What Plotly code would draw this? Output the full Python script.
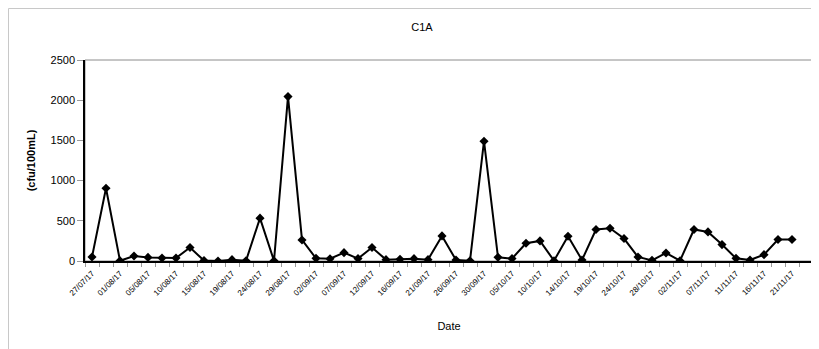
import plotly.graph_objects as go

# sample dates (every second sample is labelled on the axis)
date_labels = ['27/07/17', '01/08/17', '05/08/17', '10/08/17', '15/08/17', '19/08/17',
               '24/08/17', '29/08/17', '02/09/17', '07/09/17', '12/09/17', '16/09/17',
               '21/09/17', '26/09/17', '30/09/17', '05/10/17', '10/10/17', '14/10/17',
               '19/10/17', '24/10/17', '28/10/17', '02/11/17', '07/11/17', '11/11/17',
               '16/11/17', '21/11/17']

# C1A counts (cfu/100mL)
counts = [50, 905, 3, 62, 45, 37, 37, 167, 5, 0,
          17, 3, 533, 3, 2045, 262, 33, 28, 104, 30,
          167, 17, 21, 29, 17, 312, 12, 4, 1490, 46,
          30, 221, 250, 4, 308, 12, 392, 408, 279, 50,
          8, 100, 4, 392, 362, 204, 33, 12, 79, 267, 267]

n_slots = 52  # category slots on the axis (last one empty)
sample_no = list(range(len(counts)))

font = 'Liberation Sans, Arial, sans-serif'

# page body has an 8px margin, so the figure is a bit smaller than the window
W, H = 811, 341
L, R, T, B = 77, 6, 52, 88
pw, ph = W - L - R, H - T - B

fig = go.Figure()
fig.add_trace(go.Scatter(x=sample_no, y=counts,
                         mode='lines+markers',
                         line=dict(color='black', width=2),
                         marker=dict(symbol='diamond', size=7, color='black'),
                         showlegend=False))

# plot area border (grey top/right), outer chart border
fig.add_shape(type='rect', xref='paper', yref='paper', x0=0, x1=1, y0=0, y1=1,
              line=dict(color='#8c8c8c', width=1), layer='below')
fig.add_shape(type='rect', xref='paper', yref='paper',
              x0=-(L - 0.5) / pw, x1=1.1, y0=-0.6, y1=1 + (T - 0.5) / ph,
              line=dict(color='#c8c8c8', width=1), layer='below')

fig.update_layout(
    template='none',
    width=W, height=H,
    margin=dict(l=L, r=R, t=T, b=B, autoexpand=False),
    paper_bgcolor='white', plot_bgcolor='white',
    font=dict(family=font, color='black'),
    title=dict(text='C1A', x=0.5105, xref='container', xanchor='center',
               y=0.944, yref='container', yanchor='middle',
               font=dict(size=11, family=font, color='black')),
    xaxis=dict(range=[-0.5, n_slots - 0.5],
               automargin=False,
               tickmode='array',
               tickvals=sample_no[::2],
               ticktext=date_labels,
               tickangle=-45,
               tickfont=dict(size=8, color='black'),
               ticklabelstandoff=3,
               ticks='',
               minor=dict(tickmode='array',
                          tickvals=[i - 0.5 for i in range(n_slots + 1)],
                          ticks='outside', ticklen=4, tickcolor='#999999',
                          showgrid=False),
               showgrid=False, zeroline=False,
               showline=True, linecolor='black', linewidth=1.5,
               title=dict(text='Date', font=dict(size=11, color='black'), standoff=26)),
    yaxis=dict(range=[0, 2500],
               automargin=False,
               tickvals=[0, 500, 1000, 1500, 2000, 2500],
               ticks='outside', ticklen=6, tickcolor='#999999',
               tickfont=dict(size=11, color='black'),
               showgrid=False, zeroline=False,
               showline=True, linecolor='black', linewidth=1.5,
               title=dict(text='<b>(cfu/100mL)</b>', font=dict(size=11, color='black'), standoff=13)),
)

fig.write_html("out.html")
